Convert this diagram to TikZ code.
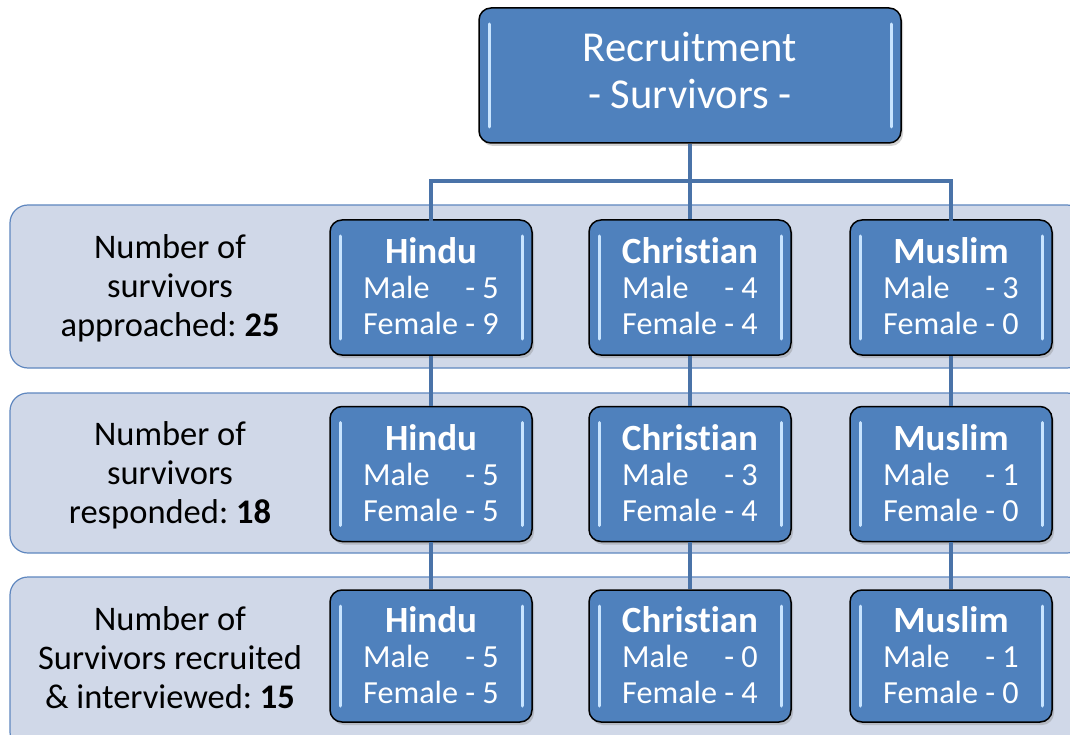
\documentclass[tikz,border=0pt]{standalone}
\usepackage{fontspec}
\setmainfont{Carlito}[Ligatures=NoCommon]
\usetikzlibrary{shadows}

\definecolor{boxblue}{HTML}{4F81BD}
\definecolor{bandfill}{HTML}{D0D8E8}
\definecolor{bandline}{HTML}{5F87BF}
\definecolor{linkblue}{HTML}{4A73A8}
\definecolor{glint}{HTML}{C8E4FF}

% group box contents: bold title, then Male/Female counts with right-aligned numbers
\newcommand\grpbox[3]{\rule{0pt}{34pt}{\fontsize{37}{38}\selectfont\bfseries #1}\\[-1pt]
  \renewcommand\arraystretch{1}%
  \begin{tabular}[t]{@{}l@{\ }r@{}}Male & - #2\\ Female & - #3\end{tabular}}

\tikzset{
  bevel/.style={rounded corners=12pt, draw=black, line width=1.5pt, fill=boxblue,
    text=white, align=center, inner sep=0pt,
    drop shadow={shadow xshift=2pt, shadow yshift=-3pt, opacity=0.35},
    path picture={
      \draw[glint, line width=3pt, line cap=round]
        ([xshift=10pt,yshift=-16pt]path picture bounding box.north west) --
        ([xshift=10pt,yshift=16pt]path picture bounding box.south west);
      \draw[glint, line width=3pt, line cap=round]
        ([xshift=-10pt,yshift=-16pt]path picture bounding box.north east) --
        ([xshift=-10pt,yshift=16pt]path picture bounding box.south east);
    }},
  group/.style={bevel, minimum width=202pt, minimum height=135pt,
    font=\fontsize{32.2}{36}\selectfont},
  band/.style={rounded corners=18pt, draw=bandline, line width=1.2pt, fill=bandfill},
  bandlabel/.style={align=center, font=\fontsize{34.5}{39}\selectfont, text=black},
  link/.style={draw=linkblue, line width=4pt}
}

\begin{document}
\frenchspacing
\begin{tikzpicture}[x=1pt, y=-1pt]
  \useasboundingbox (0,0) rectangle (1070,735);
  \clip (0,0) rectangle (1070,735);
  \fill[white] (0,0) rectangle (1070,735);

  % background bands for the three stages
  \draw[band] (10,205) rectangle (1085,368);
  \draw[band] (10,393) rectangle (1085,553);
  \draw[band] (10,577) rectangle (1085,750);

  % stage labels
  \node[bandlabel] (l1) at (170,288) {Number of\\survivors\\approached: \textbf{25}};
  \node[bandlabel] (l2) at (170,475) {Number of\\survivors\\responded: \textbf{18}};
  \node[bandlabel] (l3) at (170,658) {Number of\\Survivors recruited\\\& interviewed: \textbf{15}};

  % root box
  \node[bevel, minimum width=422pt, minimum height=135pt,
        font=\fontsize{42.6}{47}\selectfont] (top) at (690,75.5)
        {Recruitment\\- Survivors -\rule[-10pt]{0pt}{10pt}};

  % group boxes per stage
  \node[group] (h1) at (431,287.5) {\grpbox{Hindu}{5}{9}};
  \node[group] (c1) at (690,287.5) {\grpbox{Christian}{4}{4}};
  \node[group] (m1) at (951,287.5) {\grpbox{Muslim}{3}{0}};

  \node[group] (h2) at (431,474) {\grpbox{Hindu}{5}{5}};
  \node[group] (c2) at (690,474) {\grpbox{Christian}{3}{4}};
  \node[group] (m2) at (951,474) {\grpbox{Muslim}{1}{0}};

  \node[group, minimum height=132pt] (h3) at (431,656) {\grpbox{Hindu}{5}{5}};
  \node[group, minimum height=132pt] (c3) at (690,656) {\grpbox{Christian}{0}{4}};
  \node[group, minimum height=132pt] (m3) at (951,656) {\grpbox{Muslim}{1}{0}};

  % connectors
  \coordinate (bus) at (690,181);
  \draw[link] (top.south) -- (bus);
  \draw[link, line cap=rect] (h1.north) |- (bus) -| (m1.north);
  \draw[link] (bus) -- (c1.north);
  \draw[link] (h1.south) -- (h2.north);
  \draw[link] (c1.south) -- (c2.north);
  \draw[link] (m1.south) -- (m2.north);
  \draw[link] (h2.south) -- (h3.north);
  \draw[link] (c2.south) -- (c3.north);
  \draw[link] (m2.south) -- (m3.north);
\end{tikzpicture}
\end{document}
